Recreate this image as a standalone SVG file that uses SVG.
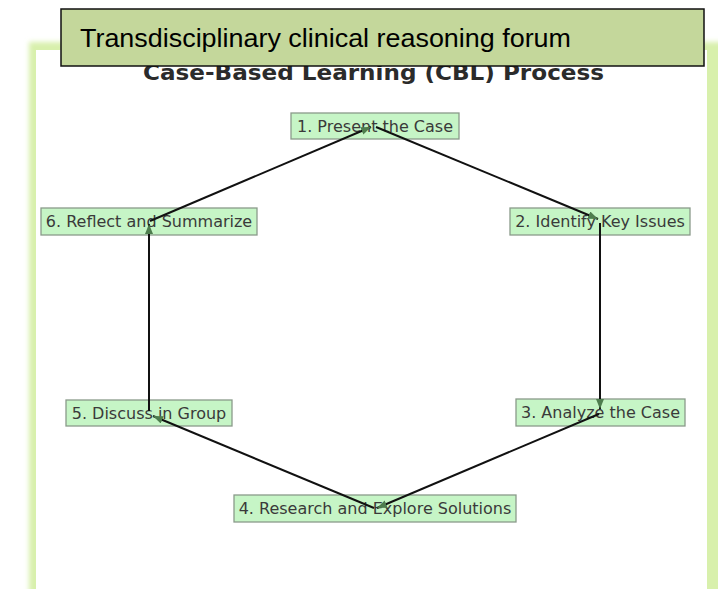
<svg xmlns="http://www.w3.org/2000/svg" width="718" height="589" viewBox="0 0 718 589">
  <defs>
    <filter id="glow" x="-5%" y="-5%" width="110%" height="110%">
      <feGaussianBlur stdDeviation="2.5"/>
    </filter>
    <marker id="arr" viewBox="0 0 10 8" refX="10" refY="4" markerWidth="10" markerHeight="8" markerUnits="userSpaceOnUse" orient="auto">
      <path d="M0,0 L10,4 L0,8 z" fill="#4e7d4e"/>
    </marker>
    <style>
      .box { fill: #c6f5c6; stroke: #8a9a8a; stroke-width: 1.3; }
      .lbl { font-family: "DejaVu Sans", sans-serif; font-size: 16px; fill: #3a3a3a; text-anchor: middle; dominant-baseline: central; }
      .edge { stroke: #111; stroke-width: 2; fill: none; marker-end: url(#arr); }
    </style>
  </defs>
  <rect width="718" height="589" fill="#ffffff"/>

  <!-- frame -->
  <rect x="29" y="42" width="700" height="580" fill="#d8f0ac" filter="url(#glow)"/>
  <rect x="36" y="50" width="671" height="560" fill="#ffffff"/>

  <!-- title -->
  <text x="373.5" y="80" text-anchor="middle" font-family="DejaVu Sans, sans-serif" font-weight="bold" font-size="22" fill="#2b2b2b" textLength="461" lengthAdjust="spacingAndGlyphs">Case-Based Learning (CBL) Process</text>

  <!-- nodes -->
  <g id="n1"><rect class="box" x="291" y="113" width="168" height="26"/><text class="lbl" x="375" y="126">1. Present the Case</text></g>
  <g id="n2"><rect class="box" x="510" y="208" width="180" height="27"/><text class="lbl" x="600" y="221.5">2. Identify Key Issues</text></g>
  <g id="n3"><rect class="box" x="516" y="399" width="169" height="27"/><text class="lbl" x="600.5" y="412.5">3. Analyze the Case</text></g>
  <g id="n4"><rect class="box" x="234" y="495" width="282" height="27"/><text class="lbl" x="375" y="508.5">4. Research and Explore Solutions</text></g>
  <g id="n5"><rect class="box" x="66" y="400" width="166" height="26"/><text class="lbl" x="149" y="413">5. Discuss in Group</text></g>
  <g id="n6"><rect class="box" x="41" y="208" width="216" height="27"/><text class="lbl" x="149" y="221.5">6. Reflect and Summarize</text></g>

  <!-- connectors -->
  <g id="edges">
    <line class="edge" x1="376" y1="127" x2="598" y2="219"/>
    <line class="edge" x1="600" y1="223" x2="600" y2="409"/>
    <line class="edge" x1="599" y1="414" x2="377" y2="508"/>
    <line class="edge" x1="374" y1="508" x2="153" y2="416"/>
    <line class="edge" x1="149" y1="411" x2="149" y2="224"/>
    <line class="edge" x1="150" y1="221" x2="371" y2="127"/>
  </g>

  <!-- banner -->
  <g id="banner">
    <rect x="61" y="9" width="643" height="57" fill="#c4d79b" stroke="#111" stroke-width="1.5"/>
    <text x="80" y="47" font-family="Liberation Sans, sans-serif" font-size="25" fill="#000" textLength="491" lengthAdjust="spacingAndGlyphs">Transdisciplinary clinical reasoning forum</text>
  </g>
</svg>
